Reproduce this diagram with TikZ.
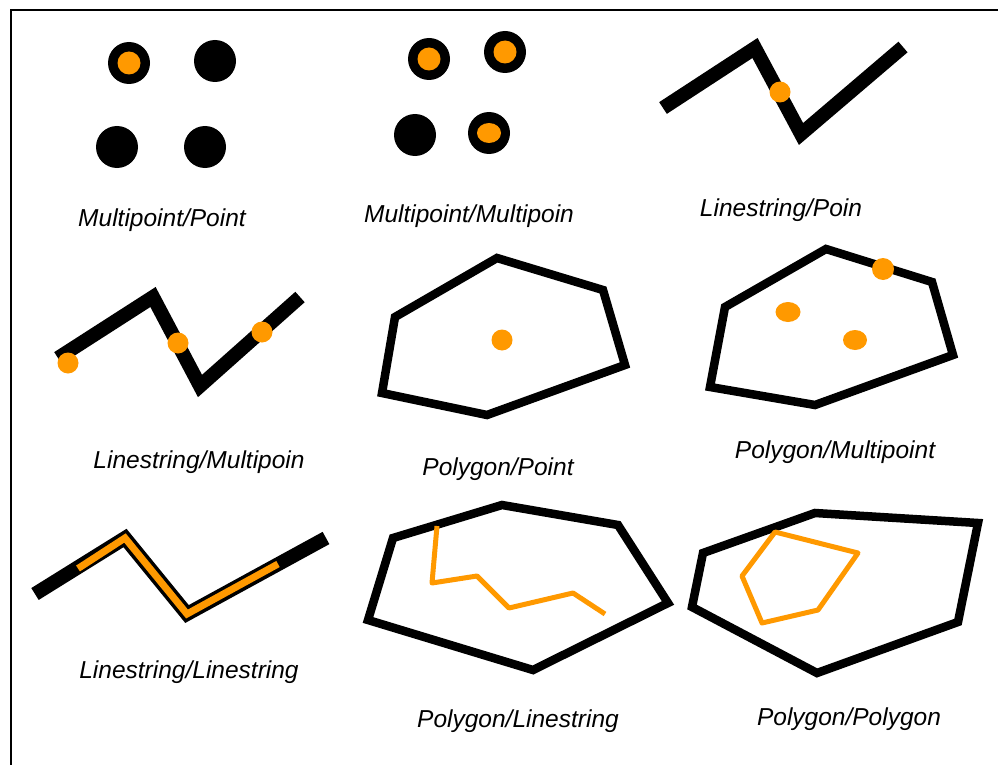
\documentclass[tikz,border=0pt]{standalone}
\usepackage{fontspec}
\setmainfont{Liberation Sans}
\definecolor{org}{RGB}{255,153,0}
\begin{document}
\begin{tikzpicture}[x=1pt,y=-1pt,
  lbl/.style={font=\fontsize{24.5}{27}\selectfont\itshape, inner sep=0pt, anchor=center},
  dotblack/.style={fill=black},
  dotorange/.style={fill=org},
  thickline/.style={line width=14pt, line join=miter, line cap=butt},
  poly/.style={line width=8.5pt, line join=miter},
  orangeline/.style={draw=org, line width=5pt, line join=round}]
\useasboundingbox (0,0) rectangle (998,765);
\fill[white] (0,0) rectangle (998,765);
% frame
\draw[line width=2pt] (11,765) -- (11,10) -- (998,10);

% Panel 1: Multipoint/Point
\fill[dotblack] (129,63) circle (21);
\fill[dotorange] (129,63) circle (11.5);
\fill[dotblack] (215,61) circle (21);
\fill[dotblack] (117,147) circle (21);
\fill[dotblack] (205,147) circle (21);
\node[lbl] (l1) at (162,220) {Multipoint/Point};

% Panel 2: Multipoint/Multipoint
\fill[dotblack] (429,59) circle (21);
\fill[dotorange] (429,59) circle (11.5);
\fill[dotblack] (505,52) circle (21);
\fill[dotorange] (505,52) circle (11.5);
\fill[dotblack] (415,135) circle (21);
\fill[dotblack] (489,133) circle (21);
\fill[dotorange] (489,133) ellipse (12 and 10);
\node[lbl] (l2) at (469,216) {Multipoint/Multipoin};

% Panel 3: Linestring/Point
\draw[thickline] (663,108) -- (755,48) -- (801,134) -- (903,47);
\fill[dotorange] (780,92) circle (10.5);
\node[lbl] (l3) at (781,210) {Linestring/Poin};

% Panel 4: Linestring/Multipoint
\draw[thickline] (58,358) -- (153,297) -- (200,386) -- (300,297);
\fill[dotorange] (68,363) circle (10.5);
\fill[dotorange] (178,343) circle (10.5);
\fill[dotorange] (262,332) circle (10.5);
\node[lbl] (l4) at (199,462) {Linestring/Multipoin};

% Panel 5: Polygon/Point
\draw[poly] (497,258) -- (603,290) -- (625,365) -- (487,415) -- (382,393) -- (395,317) -- cycle;
\fill[dotorange] (502,340) circle (10.5);
\node[lbl] (l5) at (498,469) {Polygon/Point};

% Panel 6: Polygon/Multipoint
\draw[poly] (826,249) -- (932,282) -- (953,355) -- (815,405) -- (710,387) -- (725,307) -- cycle;
\fill[dotorange] (883,269) circle (11);
\fill[dotorange] (788,312) ellipse (12.5 and 10);
\fill[dotorange] (855,340) ellipse (12 and 10);
\node[lbl] (l6) at (835,452) {Polygon/Multipoint};

% Panel 7: Linestring/Linestring
\draw[thickline] (35,594) -- (125,538) -- (187,614) -- (326,538);
\draw[draw=org, line width=7pt, line join=miter] (78,568.5) -- (125,538) -- (187,614) -- (278,564);
\node[lbl] (l7) at (189,672) {Linestring/Linestring};

% Panel 8: Polygon/Linestring
\draw[poly] (502,505) -- (618,525) -- (668,603) -- (533,670) -- (368,620) -- (393,538) -- cycle;
\draw[orangeline] (437,526) -- (432,583) -- (477,576) -- (509,608) -- (573,593) -- (605,614);
\node[lbl] (l8) at (518,721) {Polygon/Linestring};

% Panel 9: Polygon/Polygon
\draw[poly] (815,513) -- (978,523) -- (958,622) -- (817,673) -- (692,607) -- (703,553) -- cycle;
\draw[orangeline] (775,532) -- (858,553) -- (818,610) -- (762,623) -- (742,576) -- cycle;
\node[lbl] (l9) at (849,719) {Polygon/Polygon};
\end{tikzpicture}
\end{document}
